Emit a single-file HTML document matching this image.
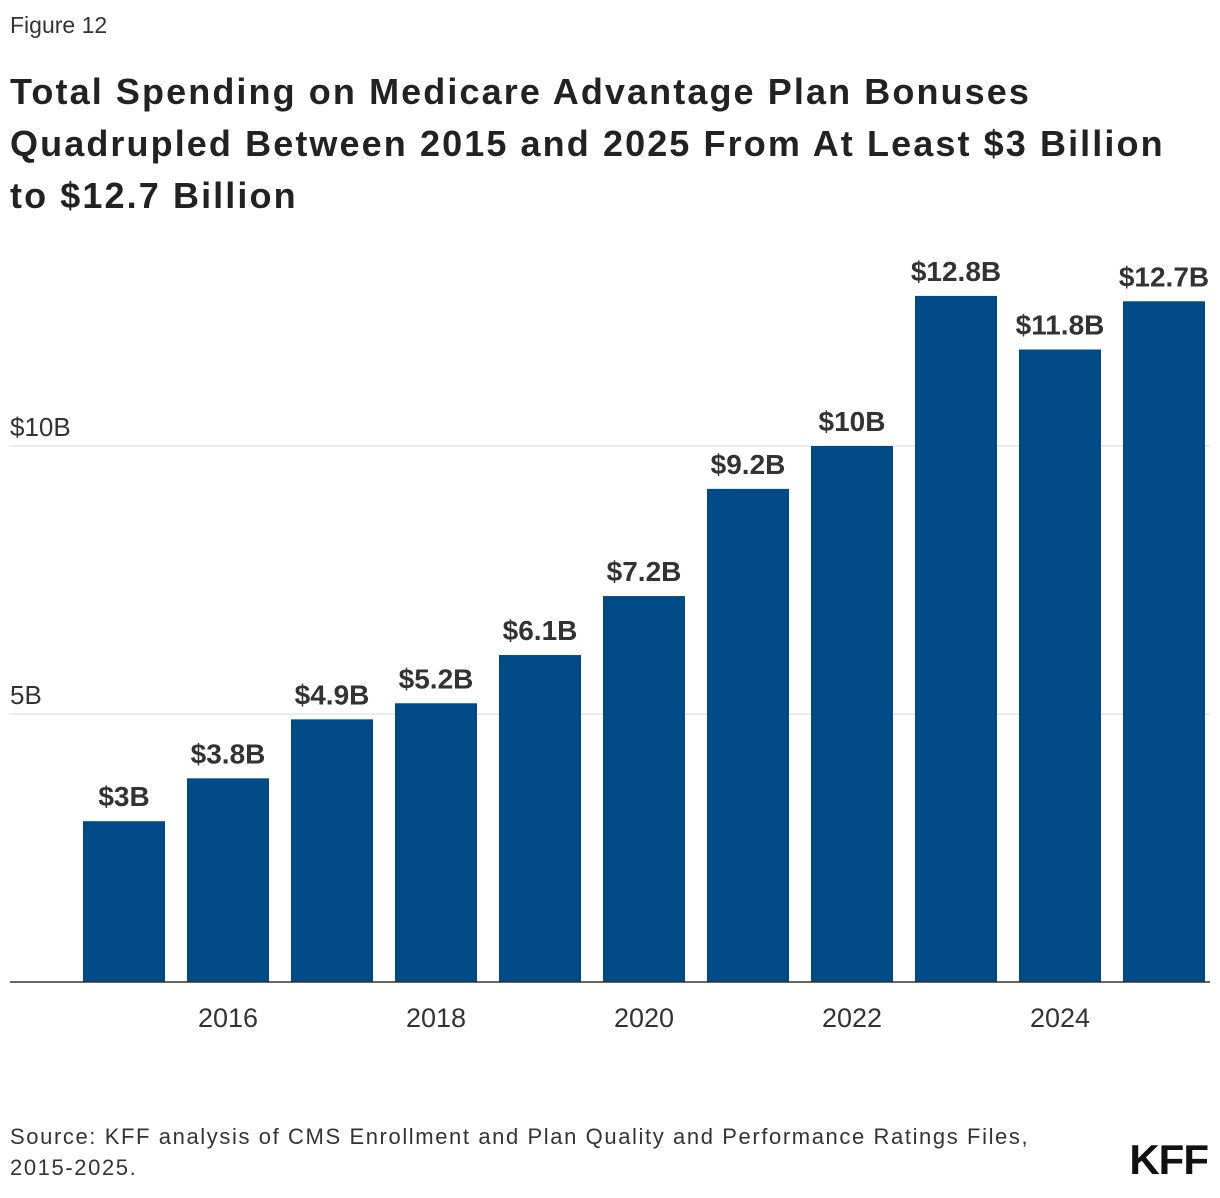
<!DOCTYPE html>
<html><head><meta charset="utf-8">
<style>
body{margin:0;background:#fff;font-family:"Liberation Sans",sans-serif;}
#wrap{position:relative;width:1220px;height:1198px;overflow:hidden;}
.fig{position:absolute;left:10px;top:12px;font-size:23px;color:#333;}
.title{position:absolute;left:10px;top:66px;font-size:36px;font-weight:bold;line-height:52px;color:#222;width:1210px;letter-spacing:2.1px;white-space:nowrap;}
.src{position:absolute;left:10px;top:1121px;font-size:22px;line-height:31px;color:#333;letter-spacing:1.6px;white-space:nowrap;}
.logo{position:absolute;right:12px;top:1136px;font-size:42px;font-weight:bold;color:#111;letter-spacing:-1px;}
</style></head><body>
<div id="wrap">
<div class="fig">Figure 12</div>
<div class="title">Total Spending on Medicare Advantage Plan Bonuses<br>Quadrupled Between 2015 and 2025 From At Least $3 Billion<br>to $12.7 Billion</div>
<svg id="chart" width="1220" height="1198" style="position:absolute;left:0;top:0"></svg>
<div class="src">Source: KFF analysis of CMS Enrollment and Plan Quality and Performance Ratings Files,<br>2015-2025.</div>
<div class="logo">KFF</div>
</div>
<script>
const years=[2015,2016,2017,2018,2019,2020,2021,2022,2023,2024,2025];
const values=[3,3.8,4.9,5.2,6.1,7.2,9.2,10,12.8,11.8,12.7];
const valueLabels=["$3B","$3.8B","$4.9B","$5.2B","$6.1B","$7.2B","$9.2B","$10B","$12.8B","$11.8B","$12.7B"];
const yTicks=[5,10];
const yTickLabels=["5B","$10B"];
const xTickYears=[2016,2018,2020,2022,2024];

const NS="http://www.w3.org/2000/svg";
const svg=document.getElementById('chart');
const base=982, pxPer=53.6, x0=72, band=104, barW=82;
const y=v=>base-v*pxPer;
const xc=i=>x0+band*i+band/2;
function el(t,a){const e=document.createElementNS(NS,t);for(const k in a)e.setAttribute(k,a[k]);svg.appendChild(e);return e;}

yTicks.forEach((t,i)=>{
  const g=el('line',{x1:10,x2:1210,y1:y(t),y2:y(t),stroke:'#d8d8d8','stroke-width':1});
  
  
  const tx=el('text',{x:10,y:y(t)-10,'font-size':26,fill:'#333','font-family':'Liberation Sans, sans-serif'});
  tx.textContent=yTickLabels[i];
  
  
});

values.forEach((v,i)=>{
  const r=el('rect',{x:xc(i)-barW/2,y:y(v),width:barW,height:base-y(v),fill:'#004a87'});
  
  
  const t=el('text',{x:xc(i),y:y(v)-15,'text-anchor':'middle','font-size':28,'font-weight':'bold',fill:'#333','font-family':'Liberation Sans, sans-serif'});
  t.textContent=valueLabels[i];
  
  
});

const ax=el('line',{x1:10,x2:1210,y1:base,y2:base,stroke:'#333','stroke-width':1.5});



xTickYears.forEach(yr=>{
  const i=years.indexOf(yr);
  const t=el('text',{x:xc(i),y:1027,'text-anchor':'middle','font-size':27,fill:'#333','font-family':'Liberation Sans, sans-serif'});
  t.textContent=yr;
  
  
});
</script>
</body></html>
